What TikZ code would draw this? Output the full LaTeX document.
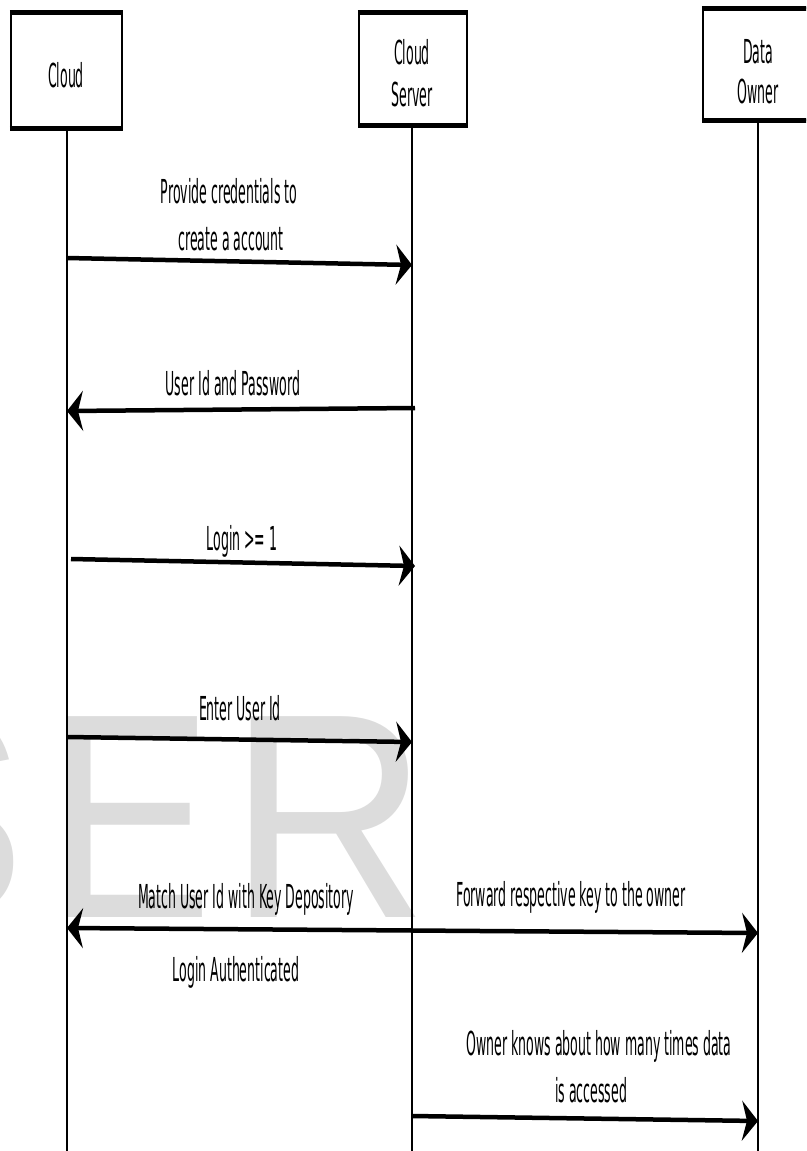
\documentclass[tikz,border=0pt]{standalone}
\usepackage{fontspec}
\usetikzlibrary{arrows.meta}
\newfontfamily\cf{DejaVu Sans}[FakeStretch=0.38]
\newfontfamily\wmfS{Liberation Sans}[FakeStretch=0.9]
\newfontfamily\wmfE{Liberation Sans}[FakeStretch=0.85]
\newfontfamily\wmfR{Liberation Sans}[FakeStretch=0.95]
\definecolor{wmgray}{HTML}{DCDCDC}
\begin{document}
\begin{tikzpicture}[x=1pt,y=-1pt,
  box/.style={draw, line width=2.2pt, inner sep=0pt, outer sep=0pt},
  lbl/.style={font=\cf\fontsize{33}{38}\selectfont, inner sep=0pt, anchor=base},
  wm/.style={text=wmgray, inner sep=0pt, anchor=base west},
  msg/.style={line width=4.5pt, -{Stealth[length=16pt,width=40pt,inset=5pt]}},
  msgboth/.style={line width=4.5pt, {Stealth[length=16pt,width=40pt,inset=5pt]}-{Stealth[length=16pt,width=40pt,inset=5pt]}},
  life/.style={line width=2pt},
  edge/.style={line width=5pt, shorten <=-1.1pt, shorten >=-1.1pt}]
\useasboundingbox (0,0) rectangle (806,1151);
\begin{scope}
\clip (0,0) rectangle (806,1151);
% watermark
\node[wm, font=\wmfS\fontsize{292}{292}\selectfont] (wS) at (-150,917) {S};
\node[wm, font=\wmfE\fontsize{292}{292}\selectfont] (wE) at (47,917) {E};
\node[wm, font=\wmfR\fontsize{292}{292}\selectfont] (wR) at (228,917) {R};
% boxes
\node[box, minimum width=111pt, minimum height=116pt] (cloud) at (66.5,70) {};
\node[box, minimum width=108pt, minimum height=113pt] (server) at (413,68.5) {};
\node[box, minimum width=110pt, minimum height=112pt] (owner) at (758,64) {};
\foreach \b in {cloud,server,owner}{
  \draw[edge] (\b.north west) -- (\b.north east);
  \draw[edge] (\b.south west) -- (\b.south east);
}
\node[lbl] (tcloud) at (66,87) {Cloud};
\node[lbl] (tserver1) at (412,64) {Cloud};
\node[lbl] (tserver2) at (412,106) {Server};
\node[lbl] (towner1) at (758,63) {Data};
\node[lbl] (towner2) at (758,103) {Owner};
% lifelines
\coordinate (cloudend) at (67,1151);
\coordinate (serverend) at (412,1151);
\coordinate (ownerend) at (758,1151);
\draw[life] (cloud.south -| cloudend) -- (cloudend);
\draw[life] (server.south -| serverend) -- (serverend);
\draw[life] (owner.south -| ownerend) -- (ownerend);
% message end points
\coordinate (c1) at (67,258);   \coordinate (s1) at (412,265);
\coordinate (s2) at (415,408);  \coordinate (c2) at (67,411);
\coordinate (c3) at (71,559);   \coordinate (s3) at (415,566);
\coordinate (c4) at (67,737);   \coordinate (s4) at (412,742);
\coordinate (c5) at (67,928);   \coordinate (o5) at (758,933);
\coordinate (s6) at (412,1116); \coordinate (o6) at (758,1121);
% messages
\draw[msg] (c1) -- (s1);
\draw[msg] (s2) -- (c2);
\draw[msg] (c3) -- (s3);
\draw[msg] (c4) -- (s4);
\draw[msgboth] (c5) -- (o5);
\draw[msg] (s6) -- (o6);
% labels
\node[lbl] (l1a) at (229,203) {Provide credentials to};
\node[lbl] (l1b) at (231,250) {create a account};
\node[lbl] (l2) at (233,395) {User Id and Password};
\node[lbl] (l3) at (242,550) {Login >= 1};
\node[lbl] (l4) at (240,720) {Enter User Id};
\node[lbl] (l5a) at (246,908) {Match User Id with Key Depository};
\node[lbl] (l5b) at (571,906) {Forward respective key to the owner};
\node[lbl] (l5c) at (236,981) {Login Authenticated};
\node[lbl] (l6a) at (599,1055) {Owner knows about how many times data};
\node[lbl] (l6b) at (591,1102) {is accessed};
\end{scope}
\end{tikzpicture}
\end{document}
